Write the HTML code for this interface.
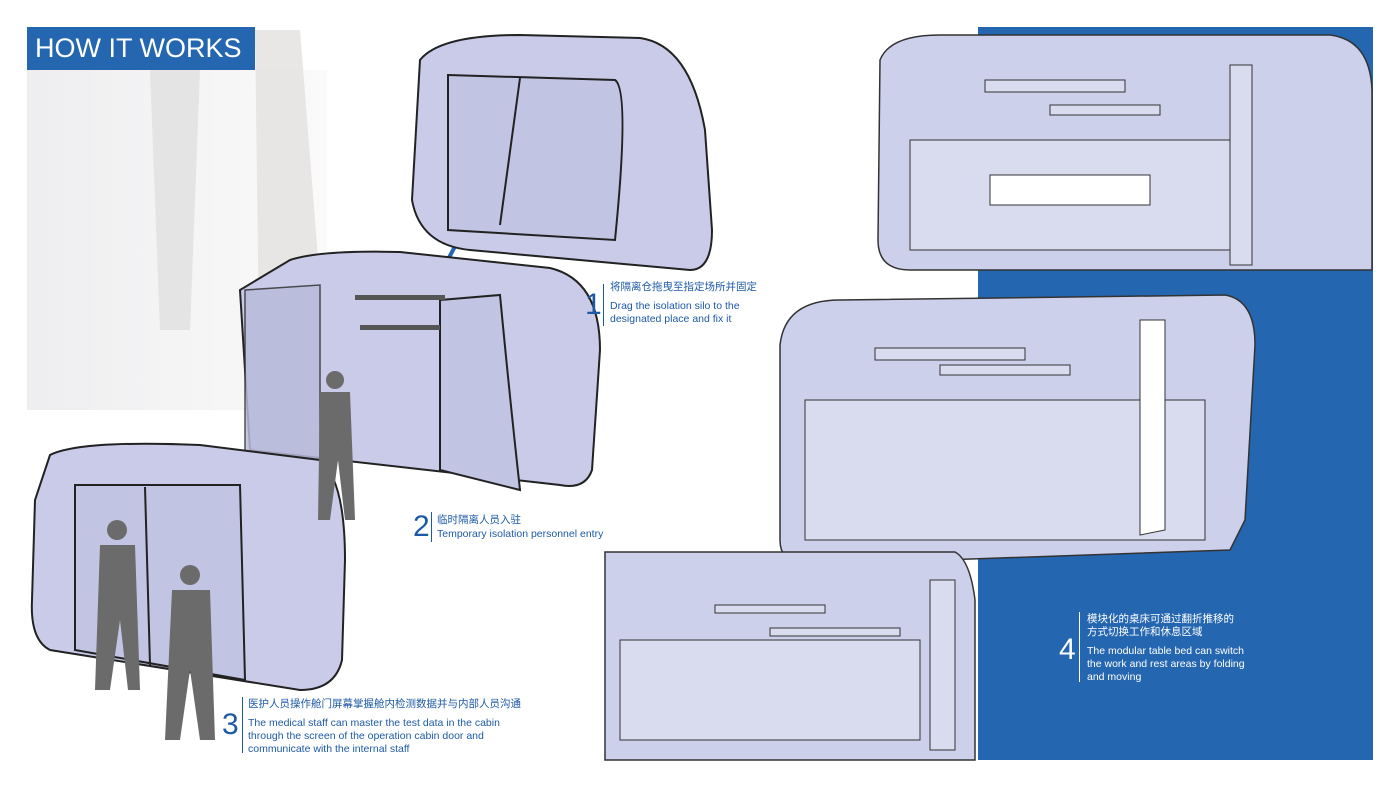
<!DOCTYPE html>
<html><head><meta charset="utf-8"><style>
body{margin:0;width:1400px;height:787px;background:#fff;position:relative;overflow:hidden;font-family:"Liberation Sans","Noto Sans CJK SC",sans-serif}
.t{position:absolute;color:#1d5aa6;font-size:10.5px;line-height:13px;white-space:nowrap}
.n{position:absolute;color:#1d5aa6;font-size:30px;line-height:30px}
.bar{position:absolute;width:1px;background:#1d5aa6}
</style></head><body>
<svg width="1400" height="787" style="position:absolute;left:0;top:0">
<defs><linearGradient id="g" x1="0" x2="1"><stop offset="0" stop-color="#eeeef0"/><stop offset="1" stop-color="#fafafa"/></linearGradient></defs>
<rect x="978" y="27" width="395" height="733" fill="#2566b0"/>
<rect x="27" y="70" width="300" height="340" fill="url(#g)"/>
<path d="M150 70 L200 70 L190 330 L160 330 Z" fill="#ddd" opacity=".7"/>
<path d="M255 30 L300 30 L330 410 L260 410 Z" fill="#e3e1df" opacity=".8"/>
<line x1="410" y1="330" x2="480" y2="200" stroke="#2566b0" stroke-width="4"/>
<!-- pod 1 -->
<path d="M420 60 Q440 35 520 35 L640 38 Q690 45 705 130 L712 230 Q712 270 690 270 L470 250 Q420 245 412 200 Z" fill="#c9cbe8" stroke="#222" stroke-width="2"/>
<path d="M448 75 L615 80 Q630 90 615 240 L448 230 Z" fill="#c2c4e4" stroke="#222" stroke-width="2"/>
<path d="M520 78 L500 225" stroke="#222" stroke-width="2"/>
<!-- pod 2 -->
<path d="M290 260 Q320 250 400 252 L550 268 Q600 280 600 350 L592 470 Q585 490 560 485 L250 450 L240 290 Z" fill="#c9cbe8" stroke="#222" stroke-width="2"/>
<path d="M245 290 L320 285 L320 470 L245 455 Z" fill="#b9bbdc" stroke="#333" stroke-width="1.5" opacity=".85"/>
<path d="M440 300 L500 295 Q510 400 520 490 L440 470 Z" fill="#c2c4e4" stroke="#222" stroke-width="2"/>
<rect x="355" y="295" width="90" height="5" fill="#555"/><rect x="360" y="325" width="80" height="5" fill="#555"/>
<!-- pod 3 -->
<path d="M50 455 Q80 440 200 445 L320 460 Q345 480 345 560 L342 660 Q335 690 300 690 L50 650 Q30 640 32 600 L35 500 Z" fill="#c9cbe8" stroke="#222" stroke-width="2"/>
<path d="M75 485 L240 485 L245 680 L75 650 Z" fill="#c2c4e4" stroke="#222" stroke-width="2"/>
<path d="M145 487 L150 665" stroke="#222" stroke-width="2"/>
<!-- silhouettes -->
<g fill="#6b6b6b">
<circle cx="335" cy="380" r="9"/><path d="M320 392 L350 392 L355 520 L345 520 L338 460 L330 520 L318 520 Z"/>
<circle cx="117" cy="530" r="10"/><path d="M100 545 L135 545 L140 690 L128 690 L120 620 L110 690 L95 690 Z"/>
<circle cx="190" cy="575" r="10"/><path d="M172 590 L210 590 L215 740 L200 740 L190 670 L180 740 L165 740 Z"/>
<circle cx="830" cy="668" r="8"/><path d="M818 680 L845 680 L850 745 L838 745 L835 705 L820 705 Z"/>
</g>
<!-- interiors -->
<g fill="#cdd0eb" stroke="#333" stroke-width="1.5">
<path d="M880 60 Q890 35 940 35 L1330 35 Q1370 40 1372 90 L1372 270 L910 270 Q878 270 878 240 Z"/>
<path d="M780 345 Q785 300 840 300 L1225 295 Q1255 300 1255 345 L1245 520 L1230 550 L800 565 Q780 560 780 540 Z"/>
<path d="M605 552 L955 552 Q970 560 975 600 L975 760 L605 760 Z"/>
</g>
<g fill="#d9dbee" stroke="#333" stroke-width="1">
<rect x="910" y="140" width="330" height="110"/>
<rect x="985" y="80" width="140" height="12"/><rect x="1050" y="105" width="110" height="10"/>
<rect x="990" y="175" width="160" height="30" fill="#fff"/>
<rect x="1230" y="65" width="22" height="200"/>
<rect x="805" y="400" width="400" height="140"/>
<rect x="875" y="348" width="150" height="12"/><rect x="940" y="365" width="130" height="10"/>
<path d="M1140 320 L1165 320 L1165 530 L1140 535 Z" fill="#fff"/>
<rect x="620" y="640" width="300" height="100"/>
<rect x="715" y="605" width="110" height="8"/><rect x="770" y="628" width="130" height="8"/>
<rect x="930" y="580" width="25" height="170"/>
</g>
</svg>
<div style="position:absolute;left:27px;top:27px;width:228px;height:43px;background:#2566b0;color:#fff;font-size:27px;line-height:43px;padding-left:8px;box-sizing:border-box;white-space:nowrap;overflow:hidden">HOW IT WORKS</div>
<div class="n" style="left:585px;top:290px">1</div><div class="bar" style="left:603px;top:284px;height:42px"></div>
<div class="t" style="left:610px;top:281px">将隔离仓拖曳至指定场所并固定</div>
<div class="t" style="left:610px;top:300px">Drag the isolation silo to the<br>designated place and fix it</div>
<div class="n" style="left:413px;top:512px">2</div><div class="bar" style="left:431px;top:512px;height:30px"></div>
<div class="t" style="left:437px;top:514px">临时隔离人员入驻</div>
<div class="t" style="left:437px;top:528px">Temporary isolation personnel entry</div>
<div class="n" style="left:222px;top:710px">3</div><div class="bar" style="left:242px;top:697px;height:56px"></div>
<div class="t" style="left:248px;top:698px">医护人员操作舱门屏幕掌握舱内检测数据并与内部人员沟通</div>
<div class="t" style="left:248px;top:717px">The medical staff can master the test data in the cabin<br>through the screen of the operation cabin door and<br>communicate with the internal staff</div>
<div class="n" style="left:1059px;top:635px;color:#fff">4</div><div class="bar" style="left:1079px;top:612px;height:70px;background:#fff"></div>
<div class="t" style="left:1087px;top:613px;color:#fff">模块化的桌床可通过翻折推移的<br>方式切换工作和休息区域</div>
<div class="t" style="left:1087px;top:645px;color:#fff">The modular table bed can switch<br>the work and rest areas by folding<br>and moving</div>
</body></html>
